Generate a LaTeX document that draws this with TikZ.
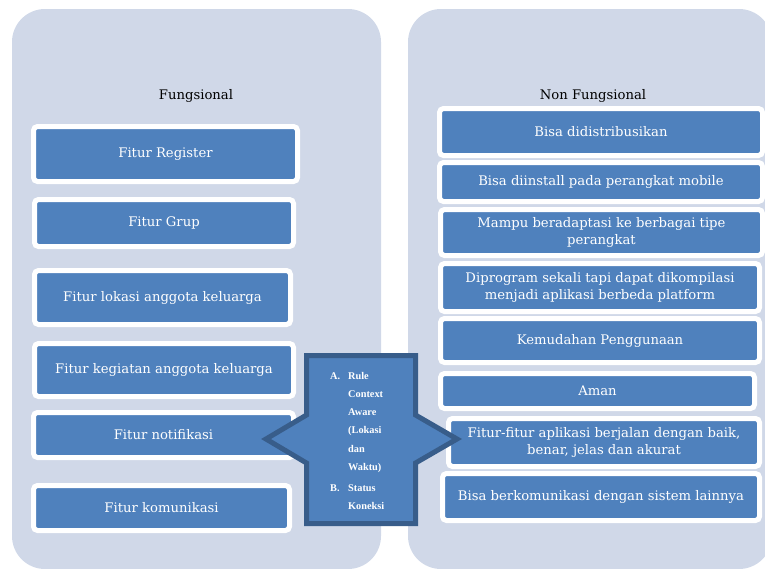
\documentclass[tikz,border=0pt]{standalone}
\usepackage{fontspec}
\setmainfont{DejaVu Serif}
\newfontfamily\cfont{Liberation Serif}
\definecolor{panel}{HTML}{D0D8E8}
\definecolor{boxblue}{HTML}{4F81BD}
\definecolor{edgeblue}{HTML}{385D8A}
\begin{document}
\begin{tikzpicture}[x=1pt,y=-1pt,
  panelbox/.style={fill=panel, rounded corners=33pt},
  item/.style={draw=white, line width=5pt, fill=boxblue, rounded corners=4pt, text=white,
    font=\fontsize{13.2}{17}\selectfont, align=center, inner sep=0pt},
  title/.style={font=\fontsize{13.2}{17}\selectfont, text=black, inner sep=0pt, anchor=base},
  callout/.style={draw=edgeblue, line width=5pt, fill=boxblue, line join=miter},
  ctext/.style={font=\cfont\bfseries\fontsize{10.3}{18.3}\selectfont, text=white, inner sep=0pt, anchor=base west}]
\useasboundingbox (0,0) rectangle (765,568);
\clip (0,0) rectangle (765,568);
% panels
\fill[panelbox] (12,9) rectangle (381,569);
\fill[panelbox] (408,9) rectangle (772,569);
% titles
\node[title] (tl) at (196,99) {Fungsional};
\node[title] (tr) at (593,99) {Non Fungsional};
% left items
\node[item, minimum width=264pt, minimum height=55pt] (l1) at (165.5,154) {Fitur Register};
\node[item, minimum width=259pt, minimum height=47pt] (l2) at (164,223) {Fitur Grup};
\node[item, minimum width=256pt, minimum height=54pt] (l3) at (162.5,297.5) {Fitur lokasi anggota keluarga};
\node[item, minimum width=259pt, minimum height=53pt] (l4) at (164,370) {Fitur kegiatan anggota keluarga};
\node[item, minimum width=260pt, minimum height=45pt] (l5) at (163.5,435) {Fitur notifikasi};
\node[item, minimum width=256pt, minimum height=45pt] (l6) at (161.5,508) {Fitur komunikasi};
% right items
\node[item, minimum width=323pt, minimum height=47pt] (r1) at (601,132) {Bisa didistribusikan};
\node[item, minimum width=323pt, minimum height=39pt] (r2) at (601,182) {Bisa diinstall pada perangkat mobile};
\node[item, minimum width=322pt, minimum height=46pt] (r3) at (601.5,232.5) {Mampu beradaptasi ke berbagai tipe\\perangkat};
\node[item, minimum width=319pt, minimum height=48pt] (r4) at (600,287.5) {Diprogram sekali tapi dapat dikompilasi\\menjadi aplikasi berbeda platform};
\node[item, minimum width=319pt, minimum height=44pt] (r5) at (600,340.5) {Kemudahan Penggunaan};
\node[item, minimum width=314pt, minimum height=35pt] (r6) at (597.5,391) {Aman};
\node[item, minimum width=311pt, minimum height=48pt] (r7) at (604,442.5) {Fitur-fitur aplikasi berjalan dengan baik,\\benar, jelas dan akurat};
\node[item, minimum width=317pt, minimum height=47pt] (r8) at (601,497) {Bisa berkomunikasi dengan sistem lainnya};
% central callout
\draw[callout] (306.5,355.5) -- (415.5,355.5) -- (415.5,415) -- (457,439) -- (415.5,463)
  -- (415.5,523.5) -- (306.5,523.5) -- (306.5,463) -- (266,439) -- (306.5,415) -- cycle;
\node[ctext] (ctx) at (330,379) {\begin{tabular}[t]{@{}p{18pt}@{}l@{}}A. & Rule\\ & Context\\ & Aware\\ & (Lokasi\\ & dan\\ & Waktu)\\[2.5pt] B. & Status\\ & Koneksi\end{tabular}};
\end{tikzpicture}
\end{document}
